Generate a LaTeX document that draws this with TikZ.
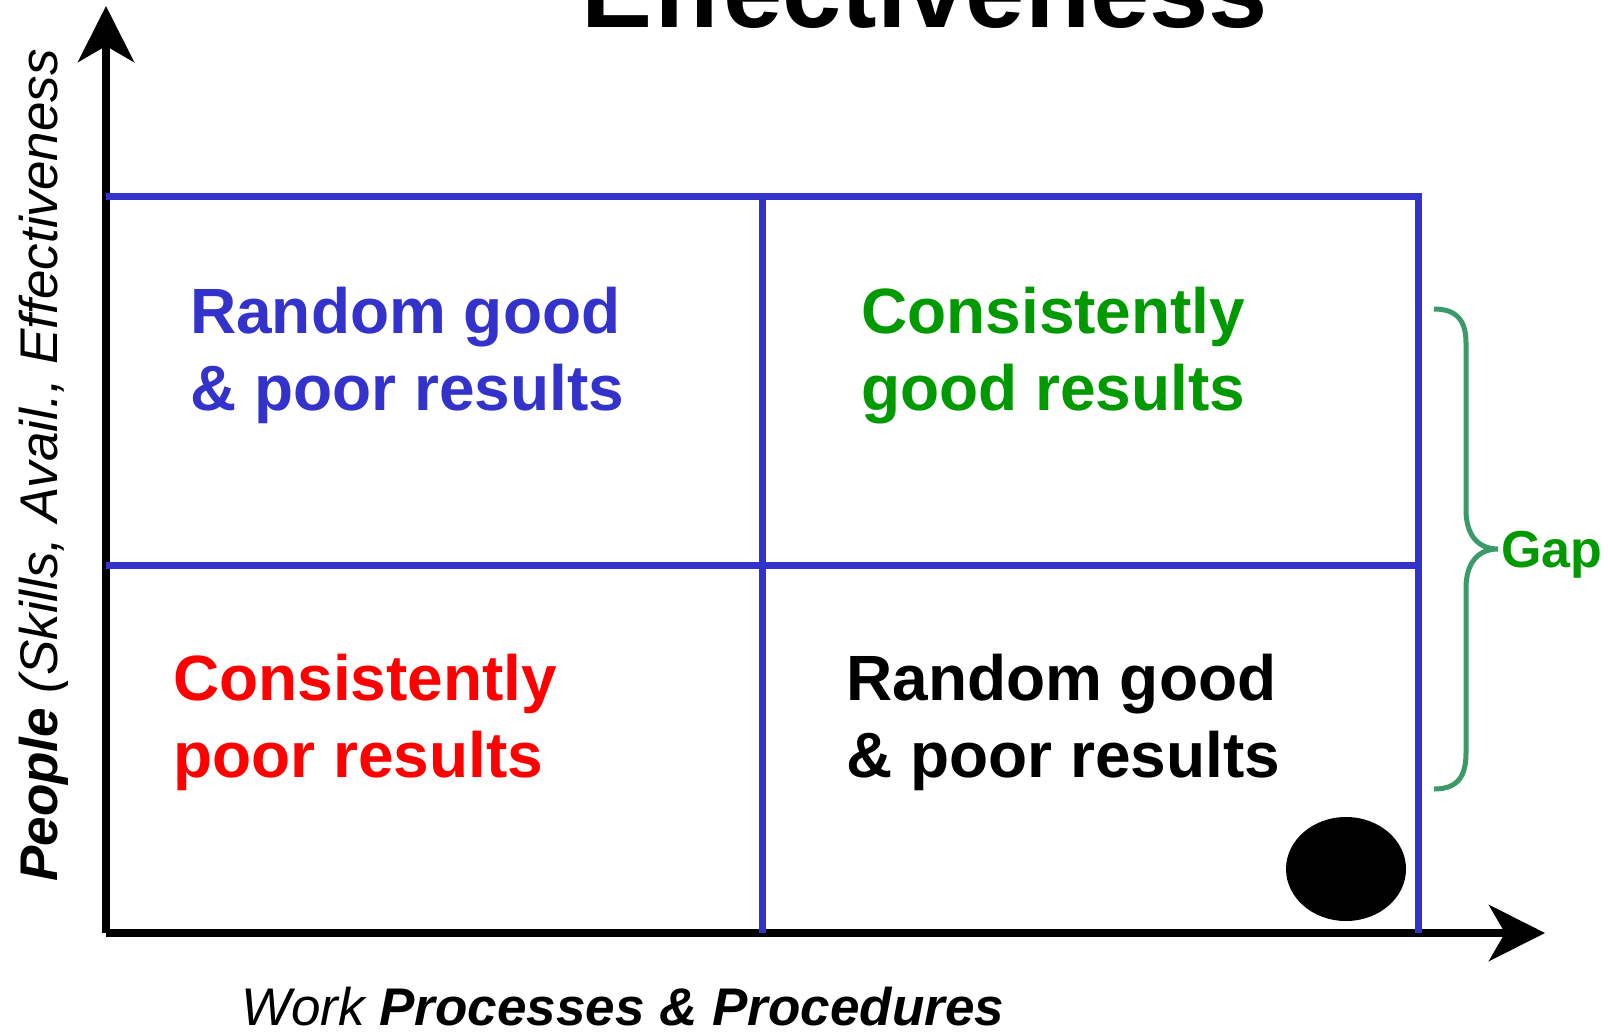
\documentclass[tikz,border=0pt]{standalone}
\usepackage{fontspec}
\setmainfont{Liberation Sans}
\usetikzlibrary{arrows.meta}
\definecolor{gridblue}{HTML}{3333CC}
\definecolor{goodgreen}{HTML}{009900}
\definecolor{bracegreen}{HTML}{3A9A6A}
\definecolor{poorred}{HTML}{FF0000}
\begin{document}
\begin{tikzpicture}[x=1pt,y=-1pt,
  axis/.style={line width=7.5pt, -{Stealth[length=56pt,width=56pt,inset=16pt]}},
  gridline/.style={gridblue, line width=7pt},
  quadtext/.style={anchor=base west, inner sep=0pt, align=left, font=\bfseries\fontsize{64}{77}\selectfont},
  axislabel/.style={anchor=base west, inner sep=0pt, font=\itshape\fontsize{53}{60}\selectfont}]
\useasboundingbox (0,0) rectangle (1608,1031);
\clip (0,0) rectangle (1608,1031);
% axes
\coordinate (origin) at (106,933);
\coordinate (ytip) at (106,6);
\coordinate (xtip) at (1545,933);
\draw[axis] (origin) -- (ytip);
\draw[axis] (origin) -- (xtip);
% quadrant grid
\draw[gridline] (106,196) -- (1418,196) -- (1418,933);
\draw[gridline] (106,565) -- (1418,565);
\draw[gridline] (762,196) -- (762,933);
% title
\node [anchor=base west, inner sep=0pt, font=\bfseries\fontsize{106.5}{110}\selectfont] (title) at (581,27) {Effectiveness};
% quadrant labels (anchored on the second line)
\node [quadtext, text=gridblue] (topleft) at (190,410) {Random good\\\& poor results};
\node [quadtext, text=goodgreen] (topright) at (861,410) {Consistently\\good results};
\node [quadtext, text=poorred] (bottomleft) at (173,777) {Consistently\\poor results};
\node [quadtext, text=black] (bottomright) at (846,777) {Random good\\\& poor results};
% axis labels
\node [axislabel, rotate=90] (ylabel) at (57,882) {\textbf{People} (Skills, Avail., Effectiveness};
\node [axislabel] (xlabel) at (241,1025) {Work \textbf{Processes \& Procedures}};
% gap brace
\draw[bracegreen, line width=5pt] (1434,309) .. controls (1458,309) and (1466,322) .. (1466,343)
  -- (1466,510) .. controls (1466,535) and (1478,549) .. (1498,549)
  .. controls (1478,549) and (1466,563) .. (1466,588)
  -- (1466,753) .. controls (1466,776) and (1458,789) .. (1434,789);
\node [anchor=base west, inner sep=0pt, text=goodgreen, font=\bfseries\fontsize{52}{60}\selectfont] (gap) at (1501,567) {Gap};
% dot
\fill (1346,869) ellipse [x radius=60pt, y radius=52pt];
\end{tikzpicture}
\end{document}
